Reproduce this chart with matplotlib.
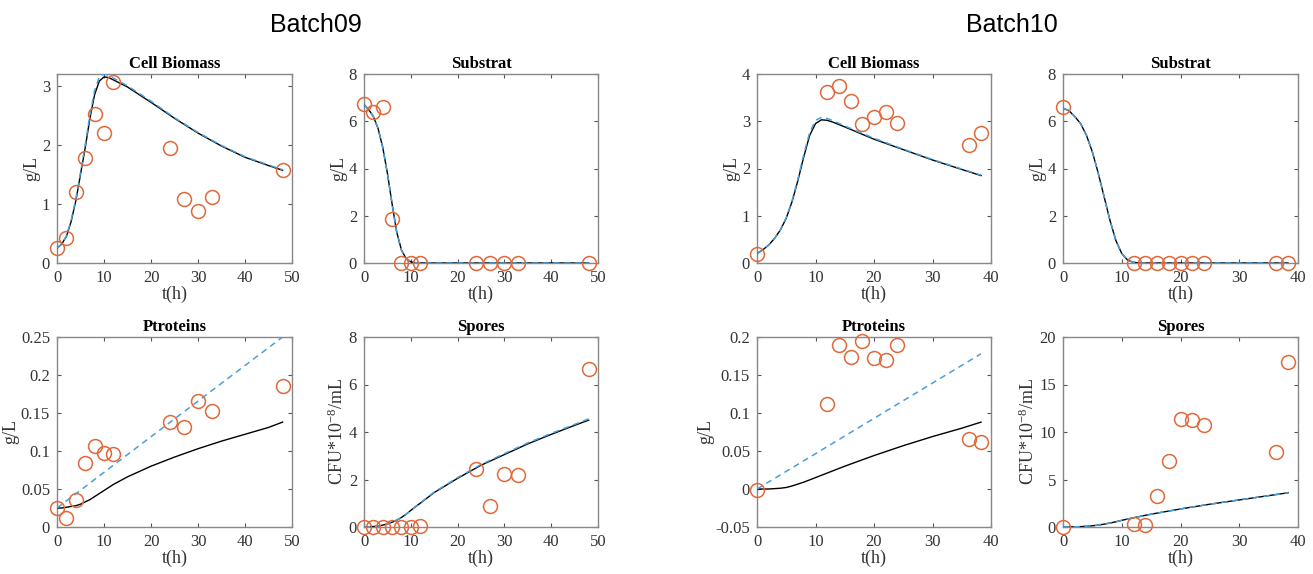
import matplotlib
matplotlib.use('Agg')
import matplotlib.pyplot as plt

plt.rcParams['font.family'] = ['Liberation Serif', 'DejaVu Serif']
plt.rcParams['mathtext.fontset'] = 'custom'
plt.rcParams['mathtext.rm'] = 'Liberation Serif'
plt.rcParams['mathtext.it'] = 'Liberation Serif:italic'

ORANGE = '#E0683A'
BLUE = '#4A9FDB'
GRID_GRAY = '#555555'

# ---------------- Batch09 ----------------
b09_t_data = [0, 2, 4, 6, 8, 10, 12, 24, 27, 30, 33, 48]
b09_x_data = [0.25, 0.43, 1.2, 1.78, 2.52, 2.2, 3.07, 1.95, 1.08, 0.88, 1.12, 1.57]
b09_s_data = [6.75, 6.4, 6.6, 1.85, 0, 0, 0, 0, 0, 0, 0, 0]
b09_p_data = [0.025, 0.012, 0.035, 0.084, 0.107, 0.097, 0.096, 0.138, 0.132, 0.166, 0.152, 0.186]
b09_sp_data = [0, 0, 0, 0, 0, 0, 0.05, 2.45, 0.88, 2.25, 2.17, 6.65]

b09_t_model = [0, 1, 2, 3, 4, 5, 6, 7, 8, 9, 10, 11, 12, 15, 20, 25, 30, 35, 40, 45, 48]
b09_x_model = [0.25, 0.32, 0.45, 0.7, 1.05, 1.5, 1.95, 2.45, 2.85, 3.08, 3.15, 3.14, 3.1,
               2.98, 2.72, 2.45, 2.2, 1.98, 1.79, 1.65, 1.57]
b09_x_model2 = [0.25, 0.32, 0.46, 0.72, 1.08, 1.53, 2.0, 2.5, 2.92, 3.15, 3.2, 3.18, 3.13,
                3.0, 2.74, 2.46, 2.21, 1.99, 1.8, 1.66, 1.58]
b09_s_model = [6.7, 6.5, 6.2, 5.7, 4.9, 3.8, 2.5, 1.3, 0.55, 0.18, 0.05, 0.01, 0, 0, 0, 0,
               0, 0, 0, 0, 0]
b09_p_model = [0.025, 0.025, 0.026, 0.027, 0.028, 0.03, 0.033, 0.036, 0.04, 0.044, 0.048,
               0.052, 0.056, 0.066, 0.08, 0.092, 0.103, 0.113, 0.122, 0.131, 0.138]
b09_p_model2 = [0.025, 0.0297, 0.0344, 0.0391, 0.0438, 0.0484, 0.0531, 0.0578, 0.0625,
                0.0672, 0.0719, 0.0766, 0.0813, 0.0953, 0.1188, 0.1422, 0.1656, 0.1891,
                0.2125, 0.2359, 0.25]
b09_sp_model = [0, 0.01, 0.02, 0.04, 0.08, 0.13, 0.2, 0.29, 0.4, 0.54, 0.7, 0.85, 1.0,
                1.45, 2.05, 2.6, 3.05, 3.5, 3.9, 4.28, 4.5]
b09_sp_model2 = [0, 0.01, 0.02, 0.04, 0.08, 0.13, 0.2, 0.29, 0.4, 0.54, 0.7, 0.86, 1.01,
                 1.47, 2.08, 2.63, 3.09, 3.54, 3.94, 4.32, 4.55]

# ---------------- Batch10 ----------------
b10_t_data = [0, 12, 14, 16, 18, 20, 22, 24, 36.3, 38.3]
b10_x_data = [0.18, 3.62, 3.75, 3.42, 2.95, 3.08, 3.2, 2.97, 2.5, 2.75]
b10_s_data = [6.6, 0, 0, 0, 0, 0, 0, 0, 0, 0]
b10_p_data = [-0.001, 0.112, 0.19, 0.174, 0.195, 0.172, 0.17, 0.19, 0.066, 0.062]
b10_sp_data = [0, 0.35, 0.2, 3.3, 7.0, 11.35, 11.25, 10.7, 7.9, 17.4]

b10_t_model = [0, 1, 2, 3, 4, 5, 6, 7, 8, 9, 10, 11, 12, 13, 15, 20, 25, 30, 35, 38.3]
b10_x_model = [0.2, 0.28, 0.38, 0.52, 0.7, 0.95, 1.3, 1.75, 2.25, 2.7, 2.95, 3.03, 3.02,
               2.98, 2.88, 2.62, 2.4, 2.18, 1.98, 1.85]
b10_x_model2 = [0.2, 0.28, 0.38, 0.52, 0.7, 0.96, 1.32, 1.78, 2.3, 2.76, 3.02, 3.08, 3.06,
                3.01, 2.9, 2.64, 2.41, 2.19, 1.99, 1.86]
b10_s_model = [6.55, 6.45, 6.2, 5.9, 5.4, 4.7, 3.8, 2.8, 1.8, 0.95, 0.4, 0.12, 0.03, 0,
               0, 0, 0, 0, 0, 0]
b10_p_model = [0, 0, 0, 0.0005, 0.001, 0.002, 0.004, 0.0065, 0.009, 0.012, 0.015, 0.018,
               0.021, 0.024, 0.03, 0.044, 0.057, 0.069, 0.08, 0.088]
b10_p_model2 = [0, 0.0046, 0.0093, 0.0139, 0.0186, 0.0232, 0.0279, 0.0325, 0.0372, 0.0418,
                0.0465, 0.0511, 0.0558, 0.0604, 0.0697, 0.0929, 0.1162, 0.1394, 0.1626, 0.178]
b10_sp_model = [0, 0.01, 0.02, 0.04, 0.08, 0.13, 0.2, 0.3, 0.42, 0.55, 0.7, 0.84, 0.97,
                1.1, 1.35, 1.9, 2.4, 2.85, 3.3, 3.6]

fig = plt.figure(figsize=(13.13, 5.74), dpi=100)
W, H = 1313, 574


def make_ax(x0, x1, y0, y1):
    return fig.add_axes([x0 / W, 1 - y1 / H, (x1 - x0) / W, (y1 - y0) / H])


def style(ax, title, ylabel, xlim, ylim, yticks, yticklabels=None):
    ax.set_xlim(*xlim)
    ax.set_ylim(*ylim)
    ax.set_xticks(range(xlim[0], xlim[1] + 1, 10))
    ax.set_yticks(yticks)
    if yticklabels is not None:
        ax.set_yticklabels(yticklabels)
    ax.set_title(title, fontsize=12, fontweight='bold', pad=4)
    ax.set_xlabel('t(h)', fontsize=13, labelpad=0, color='#333333')
    ax.set_ylabel(ylabel, fontsize=13, labelpad=1, color='#333333')
    ax.tick_params(direction='in', top=True, right=True, labelsize=12,
                   colors=GRID_GRAY, labelcolor='#333333', length=3, pad=5)
    for sp in ax.spines.values():
        sp.set_color('#888888')
        sp.set_linewidth(1.0)


def panel(ax, tm, m1, m2, td, d):
    ax.plot(tm, m1, color='black', lw=1.0, zorder=3)
    ax.plot(tm, m2, color=BLUE, lw=1.1, ls=(0, (4, 3)), zorder=4)
    ax.plot(td, d, 'o', mfc='none', mec=ORANGE, ms=10, mew=1.1, zorder=5, clip_on=False)


cols = [(57, 292), (364, 598), (757, 991), (1063, 1298)]
top = (74, 263)
bot = (337, 527)

spore_label = r'CFU*10$^{\mathrm{-8}}$/mL'

# Batch09
ax = make_ax(cols[0][0], cols[0][1], *top)
panel(ax, b09_t_model, b09_x_model, b09_x_model2, b09_t_data, b09_x_data)
style(ax, 'Cell Biomass', 'g/L', (0, 50), (0, 3.2), [0, 1, 2, 3])

ax = make_ax(cols[1][0], cols[1][1], *top)
panel(ax, b09_t_model, b09_s_model, b09_s_model, b09_t_data, b09_s_data)
style(ax, 'Substrat', 'g/L', (0, 50), (0, 8), [0, 2, 4, 6, 8])

ax = make_ax(cols[0][0], cols[0][1], *bot)
panel(ax, b09_t_model, b09_p_model, b09_p_model2, b09_t_data, b09_p_data)
style(ax, 'Ptroteins', 'g/L', (0, 50), (0, 0.25), [0, 0.05, 0.1, 0.15, 0.2, 0.25],
      ['0', '0.05', '0.1', '0.15', '0.2', '0.25'])

ax = make_ax(cols[1][0], cols[1][1], *bot)
panel(ax, b09_t_model, b09_sp_model, b09_sp_model2, b09_t_data, b09_sp_data)
style(ax, 'Spores', spore_label, (0, 50), (0, 8), [0, 2, 4, 6, 8])

# Batch10
ax = make_ax(cols[2][0], cols[2][1], *top)
panel(ax, b10_t_model, b10_x_model, b10_x_model2, b10_t_data, b10_x_data)
style(ax, 'Cell Biomass', 'g/L', (0, 40), (0, 4), [0, 1, 2, 3, 4])

ax = make_ax(cols[3][0], cols[3][1], *top)
panel(ax, b10_t_model, b10_s_model, b10_s_model, b10_t_data, b10_s_data)
style(ax, 'Substrat', 'g/L', (0, 40), (0, 8), [0, 2, 4, 6, 8])

ax = make_ax(cols[2][0], cols[2][1], *bot)
panel(ax, b10_t_model, b10_p_model, b10_p_model2, b10_t_data, b10_p_data)
style(ax, 'Ptroteins', 'g/L', (0, 40), (-0.05, 0.2), [-0.05, 0, 0.05, 0.1, 0.15, 0.2],
      ['-0.05', '0', '0.05', '0.1', '0.15', '0.2'])

ax = make_ax(cols[3][0], cols[3][1], *bot)
panel(ax, b10_t_model, b10_sp_model, b10_sp_model, b10_t_data, b10_sp_data)
style(ax, 'Spores', spore_label, (0, 40), (0, 20), [0, 5, 10, 15, 20])

fig.text(316 / W, 1 - 25 / H, 'Batch09', fontsize=18, family='Liberation Sans',
         ha='center', va='center')
fig.text(1012 / W, 1 - 25 / H, 'Batch10', fontsize=18, family='Liberation Sans',
         ha='center', va='center')

fig.savefig('out.png', dpi=100)
